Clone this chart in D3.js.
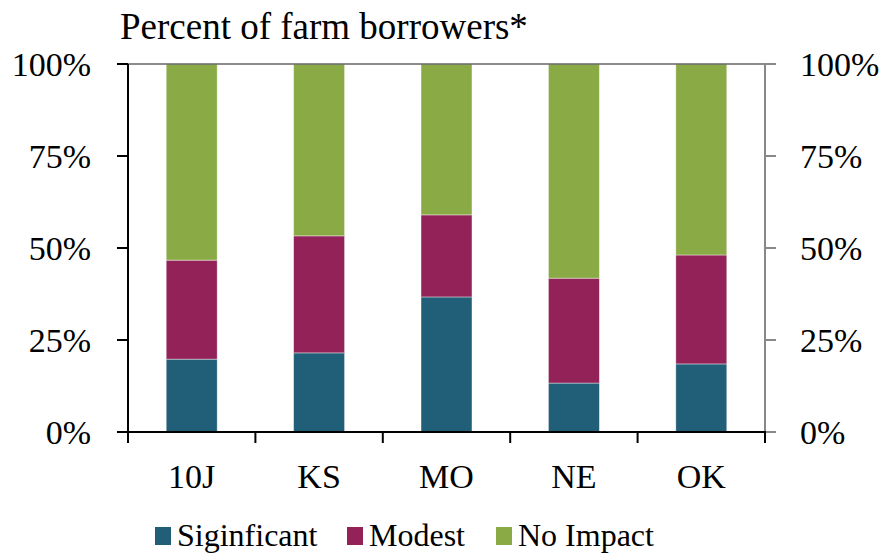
<!DOCTYPE html>
<html>
<head>
<meta charset="utf-8">
<script src="https://cdn.jsdelivr.net/npm/d3@7"></script>
<style>
  body { margin: 0; background: #fff; }
  svg text { font-family: "Liberation Serif", "DejaVu Serif", serif; fill: #000; }
</style>
</head>
<body>
<svg id="chart" width="884" height="556"></svg>
<script>
// Share of farm borrowers by impact level (percent)
const categories = ['10J', 'KS', 'MO', 'NE', 'OK'];
const significant = [19.8, 21.5, 36.7, 13.3, 18.5];
const modest = [26.9, 31.8, 22.3, 28.5, 29.6];
const noImpact = categories.map((c, i) => 100 - significant[i] - modest[i]);
const seriesNames = ['Siginficant', 'Modest', 'No Impact'];
const seriesColors = ['#215E78', '#922257', '#8AAA45'];
const yTicks = [0, 25, 50, 75, 100];

const svg = d3.select('#chart');
const margin = { left: 128, right: 119, top: 64, bottom: 124 };
const width = 884, height = 556;

const x = d3.scaleBand()
  .domain(categories)
  .range([margin.left, width - margin.right])
  .paddingInner(0.6)
  .paddingOuter(0.3);

const y = d3.scaleLinear()
  .domain([0, 100])
  .range([height - margin.bottom, margin.top]);

// stacked data
const rows = categories.map((c, i) => ({
  cat: c,
  'Siginficant': significant[i],
  'Modest': modest[i],
  'No Impact': noImpact[i]
}));
const stack = d3.stack().keys(seriesNames)(rows);

svg.append('g')
  .selectAll('g')
  .data(stack)
  .join('g')
  .attr('fill', (d, i) => seriesColors[i])
  .selectAll('rect')
  .data(d => d)
  .join('rect')
  .attr('x', d => x(d.data.cat))
  .attr('width', x.bandwidth())
  .attr('y', d => y(d[1]))
  .attr('height', d => y(d[0]) - y(d[1]))
  .attr('stroke', 'rgba(255,255,255,0.5)')
  .attr('stroke-width', 0.8);

const x0 = margin.left, x1 = width - margin.right;

// top border line
svg.append('line')
  .attr('x1', x0 - 11).attr('x2', x1 + 11)
  .attr('y1', y(100)).attr('y2', y(100))
  .attr('stroke', '#666').attr('stroke-width', 1.5);

// left axis
const leftAxis = svg.append('g');
leftAxis.append('line')
  .attr('x1', x0).attr('x2', x0)
  .attr('y1', y(100)).attr('y2', y(0))
  .attr('stroke', '#000').attr('stroke-width', 2);
leftAxis.selectAll('.tick')
  .data(yTicks)
  .join('line')
  .attr('x1', x0 - 11).attr('x2', x0)
  .attr('y1', d => y(d)).attr('y2', d => y(d))
  .attr('stroke', '#000').attr('stroke-width', 2);
leftAxis.selectAll('text')
  .data(yTicks)
  .join('text')
  .attr('x', 91)
  .attr('y', d => y(d))
  .attr('dy', '0.35em')
  .attr('text-anchor', 'end')
  .style('font-size', '34px')
  .text(d => d + '%');

// right axis (grey)
const rightAxis = svg.append('g');
rightAxis.append('line')
  .attr('x1', x1).attr('x2', x1)
  .attr('y1', y(100)).attr('y2', y(0))
  .attr('stroke', '#888').attr('stroke-width', 2);
rightAxis.selectAll('.tick')
  .data(yTicks)
  .join('line')
  .attr('x1', x1).attr('x2', x1 + 11)
  .attr('y1', d => y(d)).attr('y2', d => y(d))
  .attr('stroke', '#888').attr('stroke-width', 2);
rightAxis.selectAll('text')
  .data(yTicks)
  .join('text')
  .attr('x', 800)
  .attr('y', d => y(d))
  .attr('dy', '0.35em')
  .attr('text-anchor', 'start')
  .style('font-size', '34px')
  .text(d => d + '%');

// bottom axis
const boundaries = d3.range(categories.length + 1).map(i => x0 + i * (x1 - x0) / categories.length);
svg.append('line')
  .attr('x1', x0 - 1).attr('x2', x1 + 1)
  .attr('y1', y(0)).attr('y2', y(0))
  .attr('stroke', '#000').attr('stroke-width', 2);
svg.append('g').selectAll('line')
  .data(boundaries)
  .join('line')
  .attr('x1', d => d).attr('x2', d => d)
  .attr('y1', y(0)).attr('y2', y(0) + 11)
  .attr('stroke', '#000').attr('stroke-width', 2);
svg.append('g').selectAll('text')
  .data(categories)
  .join('text')
  .attr('x', d => x(d) + x.bandwidth() / 2)
  .attr('y', 488)
  .attr('text-anchor', 'middle')
  .style('font-size', '34px')
  .text(d => d);

// title
svg.append('text')
  .attr('x', 120)
  .attr('y', 39)
  .style('font-size', '37px')
  .text('Percent of farm borrowers*');

// legend
const legendX = [155, 347, 496];
const legend = svg.append('g').selectAll('g')
  .data(seriesNames)
  .join('g')
  .attr('transform', (d, i) => `translate(${legendX[i]},527)`);
legend.append('rect')
  .attr('width', 16).attr('height', 18)
  .attr('fill', (d, i) => seriesColors[i]);
legend.append('text')
  .attr('x', 22)
  .attr('y', 19)
  .style('font-size', '32px')
  .text(d => d);
</script>
</body>
</html>
